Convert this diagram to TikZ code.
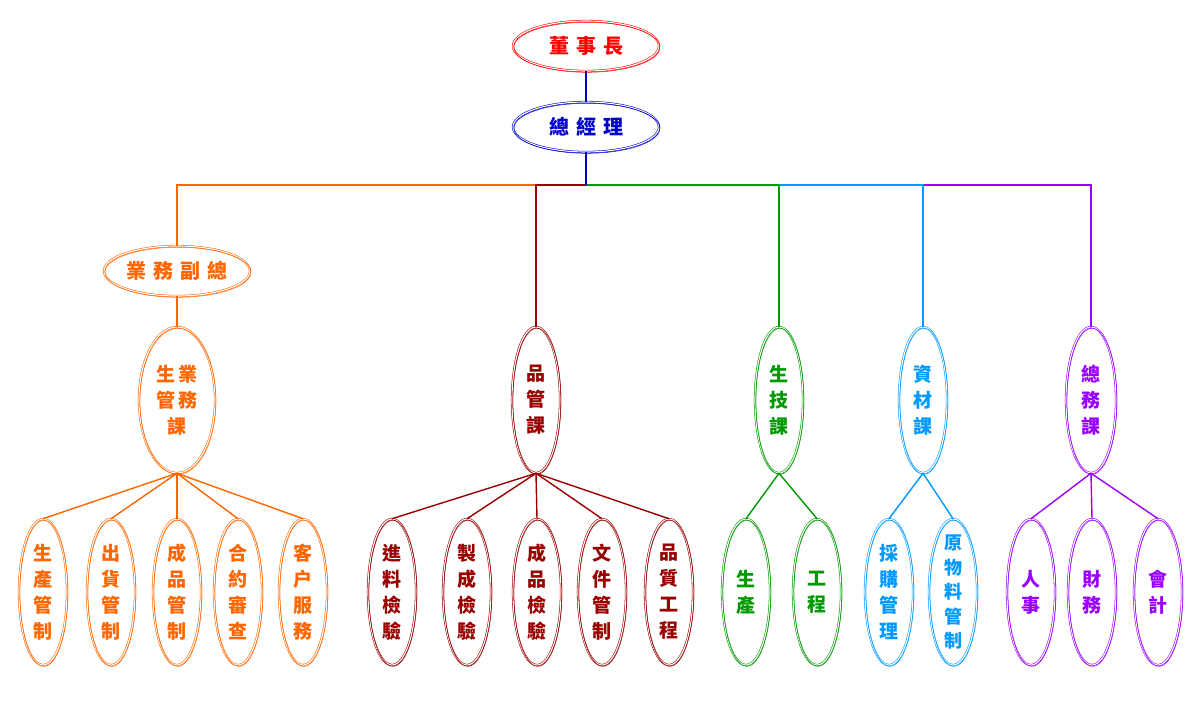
\documentclass[tikz,border=0pt]{standalone}
\usepackage{fontspec}
\newfontfamily\cjk{Noto Sans CJK TC}
\usetikzlibrary{shapes.geometric}
\definecolor{topred}{HTML}{FF0000}
\definecolor{gmblue}{HTML}{0000CC}
\definecolor{salesor}{HTML}{FF6600}
\definecolor{qcred}{HTML}{990000}
\definecolor{techgreen}{HTML}{009900}
\definecolor{matblue}{HTML}{0099FF}
\definecolor{adminpurple}{HTML}{9900FF}
\tikzset{
  oval/.style={ellipse, draw=#1, text=#1, double=white, double distance=1.1pt,
    line width=0.55pt, inner sep=0pt, align=center,
    font=\cjk\bfseries\fontsize{19}{26}\selectfont,
    postaction={draw=#1, line width=0.5pt,
      transform canvas={shift={(0.9pt,-1.3pt)}}}},
  hoval/.style={oval=#1, minimum width=146pt, minimum height=50pt,
    font=\cjk\bfseries\fontsize{20}{26}\selectfont},
  voval/.style={oval=#1, minimum width=48pt, minimum height=146pt},
  link/.style={draw=#1, line width=1.8pt},
  fan/.style={draw=#1, line width=1.4pt}
}
\newcommand{\gap}{\hspace{7pt}}
\begin{document}
\begin{tikzpicture}[x=1pt,y=-1pt]
    \useasboundingbox (0,0) rectangle (1200,709);
    % top of the chart
    \node[hoval=topred] (chair) at (586,46) {董\gap 事\gap 長};
    \node[hoval=gmblue] (gm) at (586,127) {總\gap 經\gap 理};
    \draw[link=gmblue] (chair.south) -- (gm.north);
    \coordinate (bus) at (586,185);
    % second level
    \node[hoval=salesor] (vp) at (177,271) {業\gap 務\gap 副\gap 總};
    \node[voval=salesor, minimum width=76pt] (sales) at (177,400)
      {生\hspace{3pt}業\\管\hspace{3pt}務\\課};
    \node[voval=qcred] (qc) at (536,400) {品\\管\\課};
    \node[voval=techgreen] (tech) at (779,400) {生\\技\\課};
    \node[voval=matblue] (mat) at (923,400) {資\\材\\課};
    \node[voval=adminpurple, minimum width=50pt] (admin) at (1091,400) {總\\務\\課};
    \draw[link=salesor] (bus) -| (vp.north);
    \draw[link=qcred] (bus) -| (qc.north);
    \draw[link=adminpurple] (bus) -| (admin.north);
    \draw[link=matblue] (bus) -| (mat.north);
    \draw[link=techgreen] (bus) -| (tech.north);
    \draw[link=gmblue] (gm.south) -- (bus);
    \draw[link=salesor] (vp.south) -- (sales.north);
    % third level
    \foreach \x/\t [count=\i] in {43/{生\\產\\管\\制}, 111/{出\\貨\\管\\制},
        177/{成\\品\\管\\制}, 238/{合\\約\\審\\查}, 303/{客\\户\\服\\務}} {
      \node[voval=salesor] (s\i) at (\x,592) {\t};
      \draw[fan=salesor] (sales.south) -- (s\i.north);
    }
    \foreach \x/\t [count=\i] in {392/{進\\料\\檢\\驗}, 467/{製\\成\\檢\\驗},
        537/{成\\品\\檢\\驗}, 602/{文\\件\\管\\制}, 669/{品\\質\\工\\程}} {
      \node[voval=qcred] (q\i) at (\x,592) {\t};
      \draw[fan=qcred] (qc.south) -- (q\i.north);
    }
    \foreach \x/\t [count=\i] in {746/{生\\產}, 817/{工\\程}} {
      \node[voval=techgreen] (t\i) at (\x,592) {\t};
      \draw[fan=techgreen] (tech.south) -- (t\i.north);
    }
    \node[voval=matblue] (m1) at (889,592) {採\\購\\管\\理};
    \node[voval=matblue, inner ysep=-10pt,
      font=\cjk\bfseries\fontsize{18}{24.5}\selectfont] (m2) at (953,592)
      {原\\物\\料\\管\\制};
    \draw[fan=matblue] (mat.south) -- (m1.north);
    \draw[fan=matblue] (mat.south) -- (m2.north);
    \foreach \x/\t [count=\i] in {1031/{人\\事}, 1092/{財\\務}, 1158/{會\\計}} {
      \node[voval=adminpurple] (a\i) at (\x,592) {\t};
      \draw[fan=adminpurple] (admin.south) -- (a\i.north);
    }
\end{tikzpicture}
\end{document}
